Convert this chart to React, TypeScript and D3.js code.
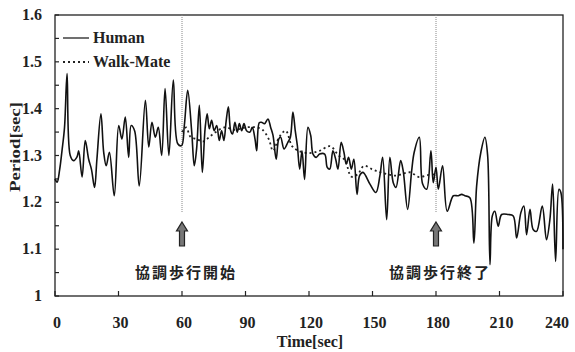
import React, { useEffect, useRef } from 'react';
import * as d3 from 'd3';

// Human step period (sec)
const humanTime = [
  0, 1, 2.2, 3.3, 4.5, 5.7, 7.2, 8.8, 10.4, 11.2, 12.8, 14.3, 15.9, 17.2, 18.7, 19.8,
  21.7, 23, 24.2, 25.7, 28, 30.1, 31.6, 33.2, 34.8, 36, 37.6, 39.8, 42.7, 44.3, 45.8,
  47.4, 48.8, 50.4, 52, 53.8, 55.9, 58, 59.8, 61.1, 62.7, 64.6, 65.8, 66.9, 68.2, 69.6,
  70.9, 71.9, 72.9, 74, 75.2, 76.4, 77.6, 78.7, 79.8, 80.8, 81.9, 83, 83.9, 85, 86.1,
  87.1, 88.2, 89.3, 90.5, 92.1, 93.2, 94.5, 95.3, 96.5, 97.5, 99, 100.6, 101.9, 103,
  104.5, 105.7, 106.6, 108.2, 110, 111.2, 112.4, 113.5, 114.5, 115.6, 116.7, 117.9,
  119.5, 120.8, 121.9, 123.4, 125, 127.4, 128.6, 129.8, 131.3, 132.6, 133.7, 135.2,
  136.5, 137.6, 138.7, 140, 141.2, 142.7, 143.9, 145.5, 148.8, 151.6, 153.5, 154.8,
  156.7, 158.2, 159.8, 161.1, 163.3, 164.5, 166.6, 168.5, 169.7, 172.1, 173.7, 175.6,
  177.6, 178.7, 180, 181.1, 183.1, 185.3, 188.2, 190.5, 192.1, 193.7, 196, 197.9, 199.2,
  201.2, 203.1, 204.4, 205.5, 206.6, 207.8, 209.4, 211, 214.1, 216.5, 218.1, 220.1,
  221.5, 222.8, 224.4, 225.9, 227.5, 230.2, 232.2, 233.8, 235.1, 236.5, 238.1, 239, 240,
];
const humanPeriod = [
  1.25, 1.243, 1.27, 1.31, 1.36, 1.475, 1.3, 1.289, 1.297, 1.31, 1.254, 1.332, 1.292,
  1.271, 1.232, 1.292, 1.389, 1.307, 1.278, 1.307, 1.214, 1.364, 1.335, 1.382, 1.296,
  1.364, 1.353, 1.235, 1.418, 1.318, 1.371, 1.339, 1.36, 1.3, 1.443, 1.3, 1.461, 1.325,
  1.321, 1.364, 1.439, 1.35, 1.278, 1.314, 1.407, 1.264, 1.357, 1.389, 1.357, 1.375,
  1.353, 1.364, 1.332, 1.353, 1.332, 1.371, 1.404, 1.353, 1.346, 1.371, 1.35, 1.368,
  1.353, 1.368, 1.353, 1.35, 1.36, 1.335, 1.31, 1.37, 1.371, 1.368, 1.378, 1.36, 1.343,
  1.292, 1.335, 1.339, 1.314, 1.328, 1.339, 1.393, 1.353, 1.321, 1.271, 1.31, 1.249,
  1.36, 1.343, 1.303, 1.296, 1.303, 1.303, 1.275, 1.271, 1.31, 1.292, 1.271, 1.328,
  1.307, 1.282, 1.296, 1.271, 1.292, 1.217, 1.257, 1.264, 1.239, 1.221, 1.257, 1.296,
  1.163, 1.296, 1.242, 1.232, 1.289, 1.267, 1.185, 1.267, 1.307, 1.339, 1.239, 1.228,
  1.31, 1.242, 1.275, 1.228, 1.278, 1.181, 1.214, 1.214, 1.217, 1.214, 1.21, 1.113,
  1.235, 1.307, 1.339, 1.3, 1.067, 1.171, 1.181, 1.149, 1.174, 1.174, 1.171, 1.124,
  1.178, 1.192, 1.131, 1.185, 1.142, 1.138, 1.192, 1.12, 1.163, 1.239, 1.074, 1.228,
  1.221, 1.1,
];

// Walk-Mate period, only during cooperative walking
const wmTime = [
  60, 62, 64, 67, 70, 73, 76, 80, 85, 90, 95, 98, 101, 103, 106, 109, 112, 115, 120,
  125, 130, 134, 137, 140, 143, 146, 150, 153, 157, 161, 165, 168, 172, 176, 180,
];
const wmPeriod = [
  1.35, 1.36, 1.34, 1.335, 1.33, 1.34, 1.35, 1.36, 1.355, 1.36, 1.36, 1.355, 1.335,
  1.31, 1.34, 1.353, 1.32, 1.31, 1.305, 1.31, 1.32, 1.3, 1.29, 1.255, 1.26, 1.278,
  1.27, 1.265, 1.26, 1.257, 1.262, 1.264, 1.254, 1.258, 1.26,
];

const xTicks = [0, 30, 60, 90, 120, 150, 180, 210, 240];
const yTicks = [1, 1.1, 1.2, 1.3, 1.4, 1.5, 1.6];
const yLabels = ['1', '1.1', '1.2', '1.3', '1.4', '1.5', '1.6'];
const markTimes = [60, 180];
const markLabels = ['協調歩行開始', '協調歩行終了'];
const legendNames = ['Human', 'Walk-Mate'];

const App = () => {
  const ref = useRef<SVGSVGElement>(null);

  useEffect(() => {
    const svg = d3.select(ref.current);
    svg.selectAll('*').remove();

    const left = 55, right = 563, top = 15, bottom = 296;
    const serif = "'Liberation Serif', 'Times New Roman', serif";

    const x = d3.scaleLinear().domain([0, 240]).range([left, right]);
    const y = d3.scaleLinear().domain([1, 1.6]).range([bottom, top]);

    svg.append('rect').attr('width', 575).attr('height', 352).attr('fill', 'white');

    // frame
    svg.append('rect')
      .attr('x', left).attr('y', top)
      .attr('width', right - left).attr('height', bottom - top)
      .attr('fill', 'none').attr('stroke', '#222').attr('stroke-width', 1.3);

    // y ticks (inward), every 0.05
    const yMinor = d3.range(0, 13).map((i) => 1 + i * 0.05);
    svg.append('g')
      .selectAll('line')
      .data(yMinor)
      .enter()
      .append('line')
      .attr('x1', left).attr('x2', left + 4)
      .attr('y1', (d) => y(d)).attr('y2', (d) => y(d))
      .attr('stroke', '#222').attr('stroke-width', 1.2);

    svg.append('g')
      .selectAll('text')
      .data(yTicks)
      .enter()
      .append('text')
      .attr('x', 42)
      .attr('y', (d) => y(d) + 5)
      .attr('text-anchor', 'end')
      .attr('font-family', serif)
      .attr('font-weight', 'bold')
      .attr('font-size', 16)
      .attr('fill', '#222')
      .text((d, i) => yLabels[i]);

    // x ticks (inward)
    svg.append('g')
      .selectAll('line')
      .data(xTicks)
      .enter()
      .append('line')
      .attr('x1', (d) => x(d)).attr('x2', (d) => x(d))
      .attr('y1', bottom).attr('y2', bottom - 5)
      .attr('stroke', '#222').attr('stroke-width', 1.2);

    svg.append('g')
      .selectAll('text')
      .data(xTicks)
      .enter()
      .append('text')
      .attr('x', (d) => Math.min(x(d) + 2, 557))
      .attr('y', 328)
      .attr('text-anchor', 'middle')
      .attr('font-family', serif)
      .attr('font-weight', 'bold')
      .attr('font-size', 16)
      .attr('fill', '#222')
      .text((d) => d);

    // axis titles
    svg.append('text')
      .attr('x', 310)
      .attr('y', 347)
      .attr('text-anchor', 'middle')
      .attr('font-family', serif)
      .attr('font-weight', 'bold')
      .attr('font-size', 16)
      .attr('fill', '#222')
      .text('Time[sec]');

    svg.append('text')
      .attr('transform', 'translate(20,147) rotate(-90)')
      .attr('text-anchor', 'middle')
      .attr('font-family', serif)
      .attr('font-weight', 'bold')
      .attr('font-size', 15)
      .attr('textLength', 90)
      .attr('lengthAdjust', 'spacingAndGlyphs')
      .attr('fill', '#222')
      .text('Period[sec]');

    // start / end markers
    markTimes.forEach((t, i) => {
      const cx = x(t);
      svg.append('line')
        .attr('x1', cx).attr('x2', cx)
        .attr('y1', top).attr('y2', 212)
        .attr('stroke', '#888').attr('stroke-width', 1)
        .attr('stroke-dasharray', '1,1');

      const arrow = d3.path();
      arrow.moveTo(cx, 222);
      arrow.lineTo(cx + 5.5, 231);
      arrow.lineTo(cx + 2.5, 231);
      arrow.lineTo(cx + 2.5, 246);
      arrow.lineTo(cx - 2.5, 246);
      arrow.lineTo(cx - 2.5, 231);
      arrow.lineTo(cx - 5.5, 231);
      arrow.closePath();
      svg.append('path')
        .attr('d', arrow.toString())
        .attr('fill', '#777')
        .attr('stroke', '#222')
        .attr('stroke-width', 1.2);

      svg.append('text')
        .attr('x', cx + 4)
        .attr('y', 278)
        .attr('text-anchor', 'middle')
        .attr('font-family', "'Noto Sans CJK JP', sans-serif")
        .attr('font-weight', 'bold')
        .attr('font-size', 15)
        .attr('letter-spacing', 2)
        .attr('fill', '#222')
        .text(markLabels[i]);
    });

    const line = d3
      .line<number>()
      .x((d, i) => x(humanTime[i]))
      .y((d) => y(d))
      .curve(d3.curveCatmullRom.alpha(0.5));

    const wmLine = d3
      .line<number>()
      .x((d, i) => x(wmTime[i]))
      .y((d) => y(d))
      .curve(d3.curveCatmullRom.alpha(0.5));

    svg.append('path')
      .datum(wmPeriod)
      .attr('d', wmLine)
      .attr('fill', 'none')
      .attr('stroke', '#222')
      .attr('stroke-width', 1.8)
      .attr('stroke-dasharray', '2,3');

    svg.append('path')
      .datum(humanPeriod)
      .attr('d', line)
      .attr('fill', 'none')
      .attr('stroke', '#111')
      .attr('stroke-width', 1.6);

    // legend
    const legend = svg.append('g');
    legendNames.forEach((name, i) => {
      const ly = 38 + i * 24;
      legend.append('line')
        .attr('x1', 63).attr('x2', 89)
        .attr('y1', ly).attr('y2', ly)
        .attr('stroke', '#222')
        .attr('stroke-width', i === 0 ? 1.3 : 1.8)
        .attr('stroke-dasharray', i === 0 ? null : '2,3');
      legend.append('text')
        .attr('x', 93)
        .attr('y', ly + 5)
        .attr('font-family', serif)
        .attr('font-weight', 'bold')
        .attr('font-size', 16)
        .attr('fill', '#222')
        .text(name);
    });
  }, []);

  return (
    <svg
      ref={ref}
      width={575}
      height={352}
      style={{ position: 'absolute', left: 0, top: 0 }}
    />
  );
};

export default App;
